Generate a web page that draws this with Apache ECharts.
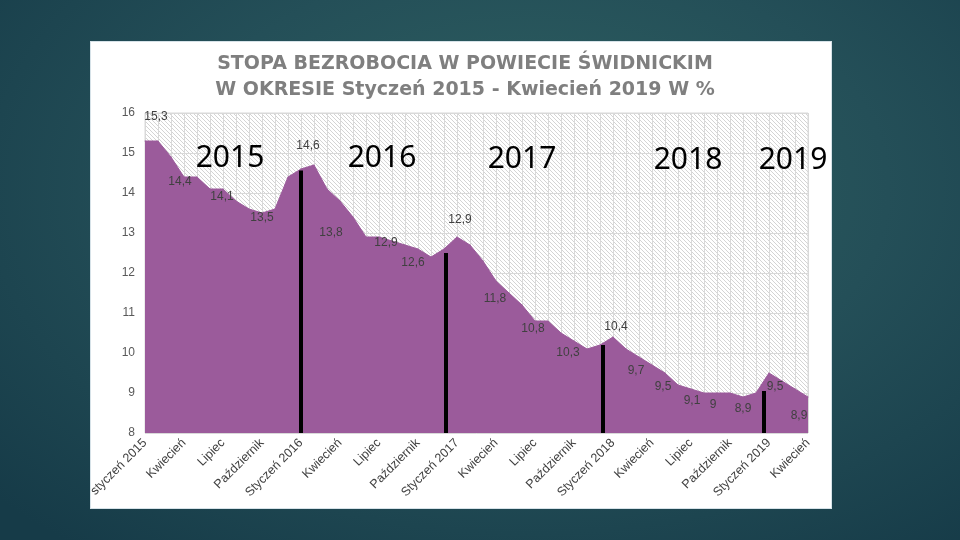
<!DOCTYPE html>
<html>
<head>
<meta charset="utf-8">
<script src="https://cdn.jsdelivr.net/npm/echarts@6/dist/echarts.min.js"></script>
<style>
html,body{margin:0;padding:0;width:960px;height:540px;overflow:hidden;}
body{background:radial-gradient(ellipse 75% 85% at 55% 35%, #2f6262 0%, #244f58 50%, #163b48 100%);}
#box{position:absolute;left:90px;top:41px;width:740px;height:466px;background:#fff;border:1px solid #d6e2e8;}
#chart{position:absolute;left:0;top:0;width:960px;height:540px;}
</style>
</head>
<body>
<div id="box"></div>
<div id="chart"></div>
<script>
// Monthly unemployment rate, Jan 2015 .. Apr 2019 (52 months)
const rates = [
  15.3, 15.3, 14.9, 14.4, 14.4, 14.1, 14.1, 13.8, 13.6, 13.5, 13.6, 14.4,
  14.6, 14.7, 14.1, 13.8, 13.4, 12.9, 12.9, 12.8, 12.7, 12.6, 12.4, 12.6,
  12.9, 12.7, 12.3, 11.8, 11.5, 11.2, 10.8, 10.8, 10.5, 10.3, 10.1, 10.2,
  10.4, 10.1, 9.9, 9.7, 9.5, 9.2, 9.1, 9.0, 9.0, 9.0, 8.9, 9.0,
  9.5, 9.3, 9.1, 8.9
];
// Tick labels every 3 months
const tickLabels = [
  'styczeń 2015', 'Kwiecień', 'Lipiec', 'Październik',
  'Styczeń 2016', 'Kwiecień', 'Lipiec', 'Październik',
  'Styczeń 2017', 'Kwiecień', 'Lipiec', 'Październik',
  'Styczeń 2018', 'Kwiecień', 'Lipiec', 'Październik',
  'Styczeń 2019', 'Kwiecień'
];
// Months (indices) that carry a value label
const labelledMonths = [0, 3, 6, 9, 12, 15, 18, 21, 24, 27, 30, 33, 36, 39, 40, 42, 44, 46, 48, 51];
// Year annotations
const yearNames = ['2015', '2016', '2017', '2018', '2019'];
// Hand-drawn year separator bars: [month position, top value]
const yearBars = [[12.0, 14.56], [23.1, 12.5], [35.2, 10.2], [47.6, 9.05]];

// ---- layout / style (kept separate from data) ----
const labelOffsets = {
  0: [11, -24], 3: [-4, 5], 6: [-1, 8], 9: [0, 5], 12: [7, -23], 15: [-9, 32],
  18: [7, 6], 21: [-5, 14], 24: [3, -17], 27: [-1, 18], 30: [-2, 8], 33: [-6, 12],
  36: [3, -10], 39: [-16, 6], 40: [-2, 14], 42: [1, 12], 44: [-4, 12], 46: [0, 12],
  48: [6, 14], 51: [-9, 19]
};
const yearTextPos = [[230, 158], [382, 158], [522, 159], [688, 160], [793, 160]];

function fmt(v) { return String(v).replace('.', ','); }

// Hatch pattern for the plot background
const pc = document.createElement('canvas');
pc.width = 4; pc.height = 4;
const pctx = pc.getContext('2d');
pctx.fillStyle = '#ffffff'; pctx.fillRect(0, 0, 4, 4);
pctx.fillStyle = '#d4d4d4';
for (let i = 0; i < 4; i++) pctx.fillRect(i, i, 1, 1);

const seriesData = rates.map((v, i) => {
  const item = { value: [i, v] };
  if (labelledMonths.indexOf(i) >= 0) {
    item.label = { show: true, position: 'inside', offset: labelOffsets[i] || [0, 10] };
  }
  return item;
});

const chart = echarts.init(document.getElementById('chart'), null, { renderer: 'canvas' });
chart.setOption({
  backgroundColor: 'transparent',
  animation: false,
  title: {
    text: 'STOPA BEZROBOCIA W POWIECIE ŚWIDNICKIM\nW OKRESIE Styczeń 2015 - Kwiecień 2019 W %',
    left: 460, top: 46, textAlign: 'center',
    textStyle: { fontFamily: 'DejaVu Sans', fontSize: 19, fontWeight: 'bold', color: '#7f7f7f', lineHeight: 26 }
  },
  grid: {
    left: 145, right: 152, top: 113, bottom: 107,
    show: true,
    backgroundColor: { image: pc, repeat: 'repeat' },
    borderColor: '#d9d9d9', borderWidth: 1
  },
  xAxis: {
    type: 'value', min: 0, max: 51, interval: 3,
    axisLine: { show: false }, axisTick: { show: false },
    splitLine: { show: true, lineStyle: { color: '#d9d9d9', width: 1 } },
    minorTick: { show: false, splitNumber: 3 },
    minorSplitLine: { show: true, lineStyle: { color: '#d9d9d9', width: 1 } },
    axisLabel: {
      rotate: 45, margin: 8, fontSize: 12.5, color: '#404040', fontFamily: 'Liberation Sans',
      formatter: v => tickLabels[Math.round(v / 3)] || ''
    }
  },
  yAxis: {
    type: 'value', min: 8, max: 16, interval: 1,
    axisLine: { show: false }, axisTick: { show: false },
    splitLine: { show: true, lineStyle: { color: '#d9d9d9', width: 1 } },
    axisLabel: { margin: 10, fontSize: 12, color: '#595959', fontFamily: 'Liberation Sans' }
  },
  series: [{
    type: 'line',
    data: seriesData,
    symbol: 'circle', symbolSize: 1,
    itemStyle: { color: '#9b5b9b' },
    lineStyle: { color: '#9b5b9b', width: 1 },
    areaStyle: { color: '#9b5b9b', opacity: 1, origin: 'start' },
    label: {
      show: false, fontSize: 12, color: '#404040', fontFamily: 'Liberation Sans',
      formatter: p => fmt(p.value[1])
    },
    markLine: {
      silent: true, symbol: 'none', animation: false,
      label: { show: false },
      lineStyle: { color: '#000', width: 4, type: 'solid' },
      data: yearBars.map(b => [{ coord: [b[0], 8] }, { coord: [b[0], b[1]] }])
    },
    z: 3
  }],
  graphic: yearNames.map((t, i) => ({
    type: 'text', x: yearTextPos[i][0], y: yearTextPos[i][1], z: 10,
    style: { text: t, fontFamily: 'Noto Sans', fontSize: 30, fill: '#000', align: 'center', verticalAlign: 'middle' }
  }))
});
</script>
</body>
</html>
